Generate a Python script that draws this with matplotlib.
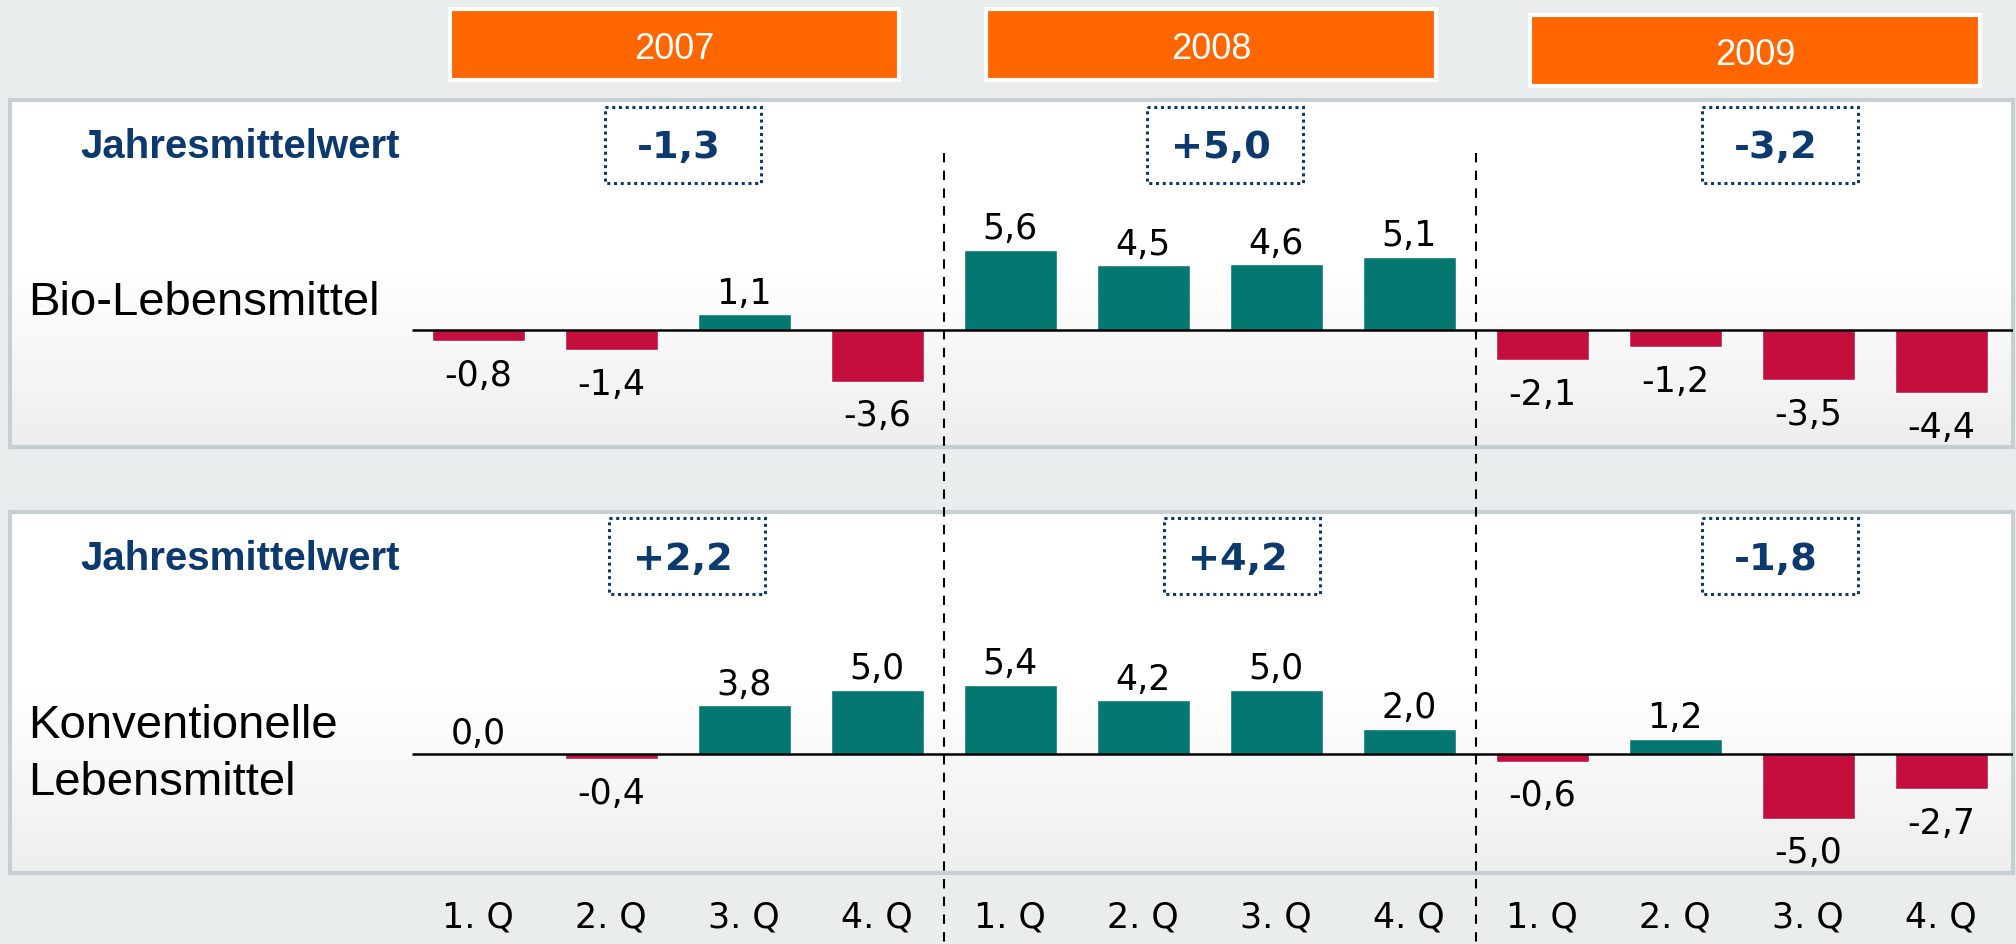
import numpy as np
import matplotlib
matplotlib.use("Agg")
import matplotlib.pyplot as plt
from matplotlib.colors import LinearSegmentedColormap
from matplotlib.patches import Rectangle

# data
quarters = ["1. Q", "2. Q", "3. Q", "4. Q"] * 3
years = ["2007", "2008", "2009"]
bio_values = [-0.8, -1.4, 1.1, -3.6, 5.6, 4.5, 4.6, 5.1, -2.1, -1.2, -3.5, -4.4]
konv_values = [0.0, -0.4, 3.8, 5.0, 5.4, 4.2, 5.0, 2.0, -0.6, 1.2, -5.0, -2.7]
bio_means = [-1.3, 5.0, -3.2]
konv_means = [2.2, 4.2, -1.8]

ORANGE = "#FF6600"
GREEN = "#047870"
RED = "#C40E3E"
BLUE = "#0D3A6E"
BG = "#E9EDEE"
BORDER = "#C6D0D3"

plt.rcParams["font.family"] = ["Liberation Sans", "DejaVu Sans"]

W, H = 2016, 944
fig = plt.figure(figsize=(W / 100, H / 100), dpi=100, facecolor=BG)

# background axes in pixel units (top-left origin) for layout items
bg = fig.add_axes([0, 0, 1, 1])
bg.set_xlim(0, W)
bg.set_ylim(H, 0)
bg.axis("off")

x_first, x_step = 478.3, 133.0  # px of first bar centre, bar pitch
pan_l, pan_r = 10, 2013
xlim = ((pan_l - x_first) / x_step, (pan_r - x_first) / x_step)

grad_cmap = LinearSegmentedColormap.from_list("g", ["#FFFFFF", "#FFFFFF", "#EEEEEE"])


def fmt(v):
    return f"{v:.1f}".replace(".", ",")


def panel(values, top, bottom, zero, scale):
    ax = fig.add_axes([pan_l / W, 1 - bottom / H, (pan_r - pan_l) / W, (bottom - top) / H])
    ylim = (-(bottom - zero) / scale, (zero - top) / scale)
    grad = np.linspace(0, 1, 256)[:, None]
    ax.imshow(grad, cmap=grad_cmap, aspect="auto", origin="upper",
              extent=(xlim[0], xlim[1], ylim[0], ylim[1]), zorder=0)
    x = np.arange(len(values))
    cols = [GREEN if v > 0 else RED for v in values]
    ax.bar(x, values, width=0.7, color=cols, edgecolor="white", linewidth=1, zorder=2)
    ax.hlines(0, -0.5, xlim[1], color="black", lw=1.8, zorder=3)
    for xi, v in zip(x, values):
        off = 7.5 if v >= 0 else -32
        ax.annotate(fmt(v), (xi, v), xytext=(0, off), textcoords="offset points",
                    ha="center", va="baseline", fontsize=25, family="DejaVu Sans")
    ax.set_xlim(xlim)
    ax.set_ylim(ylim)
    ax.set_xticks([])
    ax.set_yticks([])
    for s in ax.spines.values():
        s.set_color(BORDER)
        s.set_linewidth(3)
    return ax


ax1 = panel(bio_values, 100, 447, 330, 14.35)
ax2 = panel(konv_values, 512, 873, 754.3, 12.9)

# year header boxes
year_boxes = [(450, 9, 899, 80), (986, 9, 1436, 80), (1530, 15, 1980, 86)]
for yr, (x0, y0, x1, y1) in zip(years, year_boxes):
    bg.add_patch(Rectangle((x0, y0), x1 - x0, y1 - y0, facecolor=ORANGE,
                           edgecolor="white", lw=3, zorder=2))
    bg.text((x0 + x1) / 2, y1 - 21, yr, ha="center", va="baseline",
            fontsize=26, color="white", zorder=3)

# overlay for mean boxes, labels, separators
top = fig.add_axes([0, 0, 1, 1])
top.set_xlim(0, W)
top.set_ylim(H, 0)
top.axis("off")

mean_centres = [[683, 1225, 1780], [687, 1242, 1780]]
mean_rows = [(145, 158, bio_means), (556, 570, konv_means)]
for centres, (yc, base, means) in zip(mean_centres, mean_rows):
    top.text(80, base, "Jahresmittelwert", fontsize=29, fontweight="bold",
             color=BLUE, ha="left", va="baseline")
    for xc, m in zip(centres, means):
        top.add_patch(Rectangle((xc - 78, yc - 38), 156, 76, fill=False,
                                edgecolor=BLUE, lw=2.2, linestyle=(0, (1, 1.2))))
        top.text(xc - 4, base, f"{m:+.1f}".replace(".", ","), fontsize=27.5,
                 fontweight="bold", family="DejaVu Sans", color=BLUE,
                 ha="center", va="baseline")

top.text(28, 315, "Bio-Lebensmittel", fontsize=34, ha="left", va="baseline")
top.text(28, 738, "Konventionelle", fontsize=34, ha="left", va="baseline")
top.text(28, 795, "Lebensmittel", fontsize=34, ha="left", va="baseline")

# separators and quarter labels in panel x units
sep = fig.add_axes([pan_l / W, 0, (pan_r - pan_l) / W, 1])
sep.set_xlim(xlim)
sep.set_ylim(H, 0)
sep.axis("off")
sep.vlines([3.5, 7.5], 153, H, colors="black", lw=1.5, linestyles=[(0, (4.5, 4))])
for i, q in enumerate(quarters):
    sep.text(i, 928, q, ha="center", va="baseline", fontsize=25, family="DejaVu Sans")

fig.savefig("out.png", dpi=100, facecolor=BG)
